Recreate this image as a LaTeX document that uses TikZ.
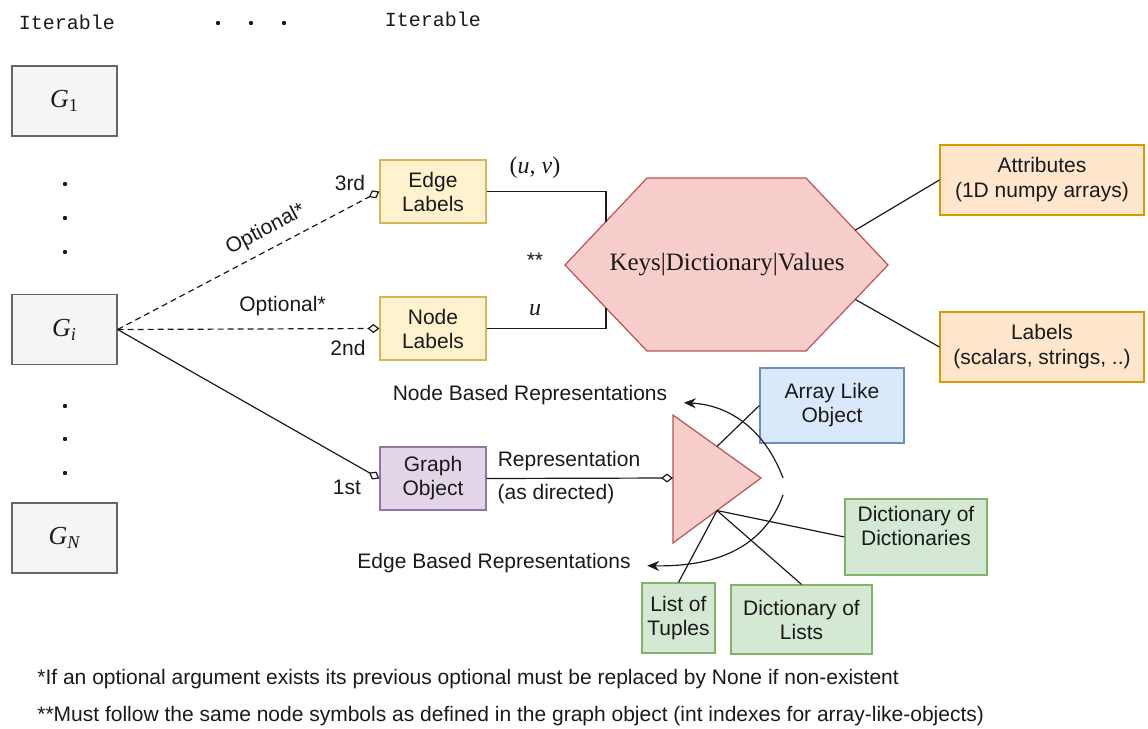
\documentclass[tikz,border=0pt]{standalone}
\usepackage{fontspec}
\setmainfont{Liberation Sans}
\newfontfamily\timesfont{Liberation Serif}
\newfontfamily\courfont{Liberation Mono}
\usepackage{tikz}
\usetikzlibrary{arrows.meta,calc,positioning}

\definecolor{grayfill}{HTML}{F5F5F5}
\definecolor{graydraw}{HTML}{666666}
\definecolor{yellowfill}{HTML}{FFF2CC}
\definecolor{yellowdraw}{HTML}{D6B656}
\definecolor{orangefill}{HTML}{FFE6CC}
\definecolor{orangedraw}{HTML}{D79B00}
\definecolor{purplefill}{HTML}{E1D5E7}
\definecolor{purpledraw}{HTML}{9673A6}
\definecolor{bluefill}{HTML}{DAE8FC}
\definecolor{bluedraw}{HTML}{6C8EBF}
\definecolor{greenfill}{HTML}{D5E8D4}
\definecolor{greendraw}{HTML}{82B366}
\definecolor{redfill}{HTML}{F8CECC}
\definecolor{reddraw}{HTML}{B85450}
\definecolor{ink}{HTML}{1A1A1A}

\begin{document}
\begin{tikzpicture}
[x=0.5pt, y=-0.5pt, text=ink,
  font=\fontsize{10.5}{12}\selectfont,
  box/.style={draw, line width=0.6pt, align=center, inner sep=1pt},
  gbox/.style={box, draw=graydraw, fill=grayfill, minimum width=52.5pt,
    minimum height=35pt, font=\timesfont\fontsize{13}{15}\selectfont},
  lblbox/.style={box, draw=yellowdraw, fill=yellowfill, minimum width=53pt, minimum height=31.5pt},
  attrbox/.style={box, draw=orangedraw, fill=orangefill, minimum width=102pt, minimum height=35pt,
    font=\fontsize{10.5}{12.5}\selectfont},
  objbox/.style={box, draw=purpledraw, fill=purplefill, minimum width=53pt, minimum height=31.5pt},
  arrbox/.style={box, draw=bluedraw, fill=bluefill, minimum width=72pt, minimum height=37.5pt},
  reprbox/.style={box, draw=greendraw, fill=greenfill, minimum height=35pt},
  iter/.style={font=\courfont\fontsize{10}{12}\selectfont},
  mathtext/.style={font=\timesfont\fontsize{12}{14}\selectfont},
  note/.style={anchor=west, inner sep=0pt, font=\fontsize{10.5}{12}\selectfont},
  link/.style={draw=ink, line width=0.6pt},
  optlink/.style={link, dash pattern=on 3pt off 2pt},
  dia/.style={-{Diamond[open,length=6pt,width=4.5pt]}},
  curvearrow/.style={link, -{Stealth[length=6pt,width=5pt]}}]

  \useasboundingbox (0,0) rectangle (1148,729);

  % iterables on the left
  \node[iter] (iterA) at (67,22) {Iterable};
  \node[iter] (iterB) at (433,19) {Iterable};
  \foreach \x in {218,251,284}
    \fill[ink] (\x,23) circle[radius=1.1pt];

  \node[gbox] (g1) at (64.5,101) {\textit{G}\textsubscript{1}};
  \node[gbox] (gi) at (64.5,329.5) {\textit{G\textsubscript{i}}};
  \node[gbox] (gn) at (64.5,538) {\textit{G\textsubscript{N}}};
  \foreach \y in {184,218,252,406,439,473}
    \fill[ink] (65,\y) circle[radius=1.1pt];

  % arguments
  \node[lblbox] (el) at (433,191.5) {Edge\\Labels};
  \node[lblbox] (nl) at (433,328.5) {Node\\Labels};
  \node[objbox] (go) at (433,478.5) {Graph\\Object};

  \draw[optlink, dia] (gi.east) -- (el.west)
    node[pos=0.6, sloped, above=1pt] {Optional*};
  \draw[optlink, dia] (gi.east) -- (nl.west)
    node[pos=0.63, above=3pt] {Optional*};
  \draw[link, dia] (gi.east) -- (go.west);

  \node (third) at (350,183) {3rd};
  \node (second) at (348,348) {2nd};
  \node (first) at (347,487) {1st};

  % hexagon
  \coordinate (hw) at (565,265);
  \coordinate (hnw) at (647,178);
  \coordinate (hne) at (806,178);
  \coordinate (he) at (888,265);
  \coordinate (hse) at (806,351);
  \coordinate (hsw) at (647,351);
  \draw[draw=reddraw, fill=redfill, line width=0.6pt]
    (hw) -- (hnw) -- (hne) -- (he) -- (hse) -- (hsw) -- cycle;
  \node[font=\timesfont\fontsize{12.5}{14}\selectfont] (hex) at (727,265) {Keys|Dictionary|Values};

  \coordinate (hel) at ($(hw)!0.5!(hnw)$);
  \coordinate (hnl) at ($(hw)!0.5!(hsw)$);
  \draw[link] (el.east) -| (hel);
  \draw[link] (nl.east) -| (hnl);
  \node[mathtext] (uv) at (535,168) {(\textit{u}, \textit{v})};
  \node[mathtext] (uu) at (535,310) {\textit{u}};
  \node (stars) at (535,260) {**};

  \node[attrbox] (attr) at (1042,180) {Attributes\\(1D numpy arrays)};
  \node[attrbox] (lab) at (1042,347) {Labels\\(scalars, strings, ..)};
  \coordinate (hat) at ($(hne)!0.6!(he)$);
  \coordinate (hlb) at ($(hse)!0.6!(he)$);
  \draw[link] (hat) -- (attr.west);
  \draw[link] (hlb) -- (lab.west);

  % representations
  \coordinate (ttop) at (673,415);
  \coordinate (tapex) at (761,478);
  \coordinate (tbot) at (673,543);
  \coordinate (tin) at (673,478);
  \draw[draw=reddraw, fill=redfill, line width=0.6pt] (ttop) -- (tapex) -- (tbot) -- cycle;

  \draw[link, dia] (go.east) -- (tin);
  \node (repr) at (569,461) {Representation};
  \node (asdir) at (556,494) {(as directed)};

  \node[arrbox] (alo) at (832,405.5) {Array Like\\Object};
  \node[reprbox, minimum width=71pt, minimum height=38pt] (dd) at (916,537) {};
  \node[align=center] (ddtext) at ([yshift=5.75pt]dd.center) {Dictionary of\\Dictionaries};
  \node[reprbox, minimum width=36.5pt] (lt) at (678.5,618) {List of\\Tuples};
  \node[reprbox, minimum width=70.5pt, minimum height=34.5pt] (dl) at (801.5,619.5) {Dictionary of\\Lists};

  \coordinate (tup) at ($(ttop)!0.5!(tapex)$);
  \coordinate (tlow) at ($(tbot)!0.5!(tapex)$);
  \draw[link] (tup) -- (alo.west);
  \draw[link] (tlow) -- (lt.north);
  \draw[link] (tlow) -- (dl.north);
  \draw[link] (tlow) -- (dd.west);

  \node[outer xsep=5pt] (nbr) at (530,395) {Node Based Representations};
  \node[outer xsep=5pt] (ebr) at (494,563) {Edge Based Representations};
  \coordinate (nbs) at (783,478);
  \coordinate (ebs) at (783,495);
  \draw[curvearrow] (nbs) .. controls (765,430) and (730,405) .. (nbr);
  \draw[curvearrow] (ebs) .. controls (765,545) and (720,567) .. (ebr);

  % footnotes
  \node[note] (fna) at (37,679)
    {*If an optional argument exists its previous optional must be replaced by None if non-existent};
  \node[note] (fnb) at (37,716)
    {**Must follow the same node symbols as defined in the graph object (int indexes for array-like-objects)};
\end{tikzpicture}
\end{document}
